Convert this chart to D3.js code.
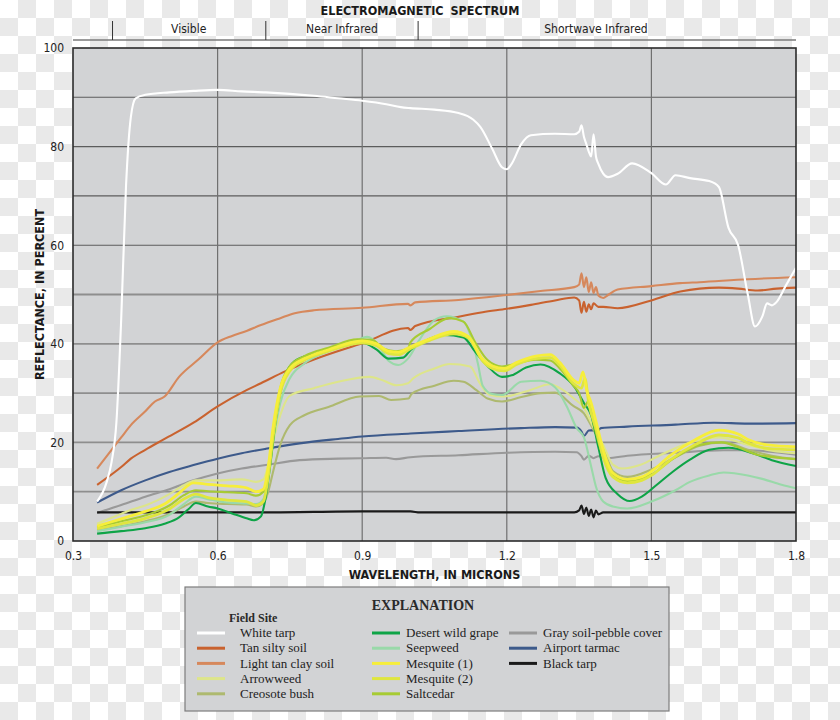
<!DOCTYPE html>
<html lang="en">
<head>
<meta charset="UTF-8">
<script src="https://d3js.org/d3.v7.min.js"></script>
<style>
    body {
        margin: 0;
        background: repeating-conic-gradient(#e9e9e9 0% 25%, #ffffff 0% 50%) 0 0 / 36px 36px;
    }
    svg { display: block; }
    .narrow { font-family: "Liberation Sans Narrow", "Arial Narrow", "DejaVu Sans Condensed", sans-serif; }
    .serif { font-family: "Liberation Serif", "DejaVu Serif", serif; }
</style>
</head>
<body>
<svg id="chart" width="840" height="720"></svg>
<script>
// ---- data (wavelength in microns, reflectance in percent) ----
const xTicks = [0.3, 0.6, 0.9, 1.2, 1.5, 1.8];
const yTicks = [0, 20, 40, 60, 80, 100];
const yGrid = [10, 20, 30, 40, 50, 60, 70, 80, 90];
const xGrid = [0.6, 0.9, 1.2, 1.5];

const bandNames = ["Visible", "Near Infrared", "Shortwave Infrared"];
const bandEdges = [0.382, 0.70, 1.016];
const bandLabelAt = [0.54, 0.858, 1.385];

const whiteTarp = [[0.35,8],[0.37,12],[0.38,16],[0.39,24],[0.40,45],[0.41,72],[0.42,86],[0.43,89.8],[0.45,90.5],[0.50,91],[0.55,91.3],[0.60,91.5],[0.65,91.2],[0.70,91],[0.75,90.7],[0.80,90.3],[0.85,89.8],[0.90,89.3],[0.95,88.6],[0.98,88],[1.00,87.8],[1.05,87.5],[1.10,86.8],[1.13,85.5],[1.145,84],[1.17,79.5],[1.19,75.8],[1.20,75.4],[1.21,76.5],[1.23,80.5],[1.25,82.3],[1.30,82.6],[1.34,82.5],[1.35,83],[1.355,84.3],[1.36,82],[1.365,80.5],[1.37,79],[1.375,78],[1.38,82.5],[1.385,78],[1.39,76.5],[1.40,74.5],[1.41,73.8],[1.43,74.5],[1.46,76.6],[1.50,74.6],[1.53,72.3],[1.55,74.2],[1.58,73.6],[1.62,73],[1.64,71.8],[1.66,63.5],[1.68,60],[1.70,50],[1.715,43.5],[1.73,45.5],[1.74,48.2],[1.75,47.8],[1.76,48.5],[1.78,52],[1.80,55.4]];
const tanSiltySoil = [[0.35,11.4],[0.40,15],[0.42,16.7],[0.45,18.5],[0.49,20.7],[0.55,24],[0.60,27.3],[0.66,30.6],[0.69,32],[0.74,34.4],[0.80,36.8],[0.90,40.1],[0.995,43.2],[1.00,42.8],[1.01,43.6],[1.10,45.5],[1.15,46.4],[1.20,47.1],[1.25,47.9],[1.30,48.8],[1.34,49.4],[1.35,48.8],[1.355,46.3],[1.36,48.5],[1.365,46.5],[1.37,48],[1.375,47],[1.38,48.2],[1.39,47.5],[1.40,47.5],[1.43,47.2],[1.50,48.8],[1.56,50.6],[1.64,51.4],[1.68,51.2],[1.72,50.8],[1.76,51.2],[1.80,51.4]];
const lightTanClaySoil = [[0.35,14.7],[0.38,18.5],[0.40,21],[0.42,23.5],[0.45,26.3],[0.47,28.3],[0.49,29.3],[0.52,33.3],[0.56,36.8],[0.60,40.3],[0.63,41.6],[0.66,42.6],[0.69,43.8],[0.73,45.2],[0.76,46.2],[0.80,46.8],[0.90,47.3],[0.995,48.1],[1.00,47.8],[1.01,48.4],[1.10,48.9],[1.20,49.9],[1.27,50.7],[1.34,51.5],[1.35,52],[1.355,54.3],[1.36,51.5],[1.365,53.5],[1.37,50.5],[1.375,52.5],[1.38,50.3],[1.385,51.5],[1.39,49.8],[1.40,49.3],[1.41,49.9],[1.43,51],[1.50,51.7],[1.56,52.3],[1.60,52.5],[1.70,53.1],[1.80,53.5]];
const arrowweed = [[0.35,3.5],[0.40,5.5],[0.42,6.3],[0.45,7.2],[0.50,9.5],[0.53,11.3],[0.555,12.3],[0.60,12.3],[0.65,12.5],[0.68,12],[0.695,12.5],[0.705,15.5],[0.715,20],[0.73,25.5],[0.75,29.5],[0.80,31],[0.85,32.3],[0.916,33.3],[0.945,32.5],[0.971,31.6],[0.995,32],[1.006,33],[1.05,35],[1.082,35.9],[1.124,35.4],[1.144,32],[1.165,29.6],[1.193,29.3],[1.248,30.6],[1.29,31.8],[1.31,31],[1.338,29],[1.36,27],[1.38,23],[1.40,19.5],[1.42,15.5],[1.44,14.7],[1.476,15.4],[1.52,17.5],[1.58,20],[1.64,21],[1.70,19.5],[1.75,18.3],[1.80,17.8]];
const creosoteBush = [[0.35,2.2],[0.40,3],[0.45,4],[0.50,5.5],[0.53,7],[0.555,8],[0.58,7.7],[0.62,7.5],[0.66,7.4],[0.68,7],[0.695,7.6],[0.705,10],[0.715,14],[0.73,19.5],[0.75,23.5],[0.78,25.5],[0.83,27.2],[0.895,29.3],[0.935,29.4],[0.96,28.6],[0.996,28.9],[1.003,29.9],[1.05,31.5],[1.09,32.5],[1.11,32.3],[1.137,30.6],[1.16,28.9],[1.19,28.3],[1.23,29.2],[1.27,30],[1.30,30.1],[1.338,27.4],[1.36,25.9],[1.38,22.5],[1.40,19.1],[1.42,14.2],[1.45,13],[1.50,14.5],[1.55,17],[1.60,19.3],[1.65,20],[1.70,18.5],[1.75,17.3],[1.80,16.6]];
const desertWildGrape = [[0.35,1.5],[0.40,2],[0.45,2.6],[0.49,3.5],[0.52,4.8],[0.54,6.5],[0.555,7.7],[0.58,7],[0.60,6.6],[0.63,5.6],[0.66,4.6],[0.675,4.2],[0.69,5],[0.70,9],[0.71,16],[0.72,24],[0.73,30],[0.74,33.5],[0.76,36.5],[0.80,38],[0.85,39.3],[0.90,40.2],[0.93,38.8],[0.955,37],[0.985,37.2],[1.00,38.7],[1.03,40.6],[1.07,41.8],[1.11,41.3],[1.135,38.3],[1.16,35.5],[1.19,33.3],[1.21,33.6],[1.24,35.2],[1.27,35.8],[1.31,34],[1.34,31.3],[1.36,28],[1.375,25.5],[1.39,19],[1.405,12.8],[1.43,9.5],[1.455,8.1],[1.48,9],[1.51,11.3],[1.545,14.1],[1.58,16.5],[1.62,18.5],[1.66,18.9],[1.71,17.8],[1.75,16.4],[1.80,15.2]];
const seepweed = [[0.35,2],[0.40,2.9],[0.45,3.8],[0.50,5.3],[0.53,7.5],[0.555,9],[0.58,8.5],[0.62,7.8],[0.66,7.6],[0.68,7.5],[0.695,8.5],[0.705,13],[0.715,20],[0.73,28],[0.75,33],[0.78,36],[0.83,38.5],[0.89,40.8],[0.91,41.4],[0.935,39.6],[0.955,36.5],[0.975,35.7],[0.995,37],[1.02,41],[1.05,44.8],[1.075,45.6],[1.11,44.5],[1.13,40],[1.14,36],[1.15,31.5],[1.17,29.8],[1.19,29.6],[1.23,32.3],[1.27,32.5],[1.30,31.2],[1.325,27.2],[1.345,22.9],[1.36,21],[1.375,15.1],[1.385,11],[1.40,8],[1.42,7],[1.45,6.6],[1.50,8],[1.55,10.3],[1.58,12],[1.62,13.3],[1.65,13.9],[1.70,13.3],[1.73,12.6],[1.77,11.4],[1.80,10.7]];
const mesquite1 = [[0.35,3],[0.40,4.5],[0.45,6],[0.49,7.5],[0.52,9.7],[0.55,11.8],[0.58,11.5],[0.62,11.2],[0.66,10.8],[0.68,10],[0.695,10.5],[0.705,15],[0.715,23],[0.73,31],[0.75,35],[0.78,37],[0.83,38.8],[0.90,40.6],[0.93,40],[0.955,38.5],[0.975,38.3],[1.00,39.4],[1.04,41],[1.09,42.5],[1.12,41.5],[1.15,36.9],[1.17,35.5],[1.195,35],[1.22,36.2],[1.26,37.5],[1.29,37.8],[1.31,36.2],[1.338,32.7],[1.35,32],[1.358,34.3],[1.366,30.5],[1.375,28],[1.386,23.9],[1.40,18.5],[1.42,13.8],[1.45,12.5],[1.48,13],[1.50,14.1],[1.54,17.4],[1.59,20.5],[1.64,22.5],[1.68,21.7],[1.70,20.6],[1.74,19.5],[1.80,19.1]];
const mesquite2 = [[0.35,2.5],[0.40,3.5],[0.45,4.6],[0.50,6.5],[0.53,8.5],[0.555,9.5],[0.58,8.8],[0.62,8.3],[0.66,8],[0.68,7.2],[0.695,8],[0.705,13],[0.715,21],[0.73,30],[0.75,34.5],[0.78,36.7],[0.83,38.5],[0.90,40.2],[0.93,39.6],[0.955,38],[0.975,37.8],[1.00,39],[1.04,40.7],[1.09,42],[1.12,41.2],[1.15,36.5],[1.17,35],[1.195,34.5],[1.22,35.8],[1.26,37],[1.29,37.2],[1.31,35.6],[1.338,32],[1.355,31],[1.362,33],[1.37,28],[1.386,22.5],[1.40,17],[1.42,13],[1.45,11.8],[1.48,12.3],[1.50,13.3],[1.54,16.5],[1.59,19.5],[1.64,21.5],[1.68,20.9],[1.70,19.9],[1.74,18.8],[1.80,18.5]];
const saltcedar = [[0.35,2.8],[0.40,4],[0.45,5.2],[0.50,7.2],[0.53,9.3],[0.555,10.3],[0.58,10.1],[0.62,9.9],[0.66,9.7],[0.68,9.2],[0.695,10],[0.705,14],[0.715,22],[0.73,31],[0.75,35.5],[0.78,37.5],[0.83,39.2],[0.89,40.9],[0.92,40.8],[0.945,39],[0.97,38.5],[0.995,39],[1.00,40.3],[1.04,43],[1.08,45.2],[1.11,44.5],[1.135,40.2],[1.16,36.7],[1.19,35.4],[1.22,36],[1.26,36.8],[1.29,36.6],[1.31,35],[1.338,31.5],[1.35,30],[1.36,27],[1.37,28.5],[1.38,24],[1.40,17],[1.42,13.5],[1.45,12.2],[1.50,13.5],[1.55,17],[1.60,19.5],[1.645,20],[1.68,19],[1.72,17.5],[1.80,16.6]];
const graySoilPebble = [[0.35,5.7],[0.40,7.3],[0.45,9],[0.50,10.5],[0.55,12.3],[0.60,13.7],[0.65,14.7],[0.70,15.4],[0.77,16.4],[0.85,16.7],[0.90,16.8],[0.95,16.9],[0.97,16.6],[1.00,17],[1.10,17.4],[1.20,17.9],[1.30,18.1],[1.345,18],[1.355,17.2],[1.36,16.5],[1.37,17.3],[1.38,16.8],[1.39,17.2],[1.41,16.8],[1.45,17.3],[1.55,17.9],[1.65,18.4],[1.70,18.4],[1.80,17.5]];
const airportTarmac = [[0.35,7.8],[0.40,10.3],[0.45,12.3],[0.50,14],[0.55,15.4],[0.60,16.7],[0.65,17.8],[0.70,18.7],[0.77,19.8],[0.85,20.7],[0.90,21.2],[1.00,21.8],[1.10,22.3],[1.23,22.9],[1.30,23.1],[1.345,23],[1.355,22.2],[1.36,21.3],[1.37,22.4],[1.38,22.5],[1.385,21.8],[1.395,22.9],[1.45,23.2],[1.55,23.6],[1.63,24],[1.70,23.8],[1.80,23.9]];
const blackTarp = [[0.35,5.8],[0.50,5.8],[0.70,5.8],[0.90,6],[1.00,6],[1.02,5.8],[1.34,5.8],[1.35,6.2],[1.355,7.2],[1.36,5.5],[1.365,6.8],[1.37,5.1],[1.375,6.4],[1.38,4.8],[1.385,6.2],[1.39,5.4],[1.40,5.8],[1.50,5.8],[1.80,5.8]];

const series = [
    { name: "White tarp", values: whiteTarp, color: "#ffffff", col: 0, row: 0 },
    { name: "Tan silty soil", values: tanSiltySoil, color: "#c9622f", col: 0, row: 1 },
    { name: "Light tan clay soil", values: lightTanClaySoil, color: "#d6885c", col: 0, row: 2 },
    { name: "Arrowweed", values: arrowweed, color: "#dde58a", col: 0, row: 3 },
    { name: "Creosote bush", values: creosoteBush, color: "#aeb96f", col: 0, row: 4 },
    { name: "Desert wild grape", values: desertWildGrape, color: "#0ea447", col: 1, row: 0 },
    { name: "Seepweed", values: seepweed, color: "#99d9a9", col: 1, row: 1 },
    { name: "Mesquite (1)", values: mesquite1, color: "#f6ee3a", col: 1, row: 2 },
    { name: "Mesquite (2)", values: mesquite2, color: "#dfe63e", col: 1, row: 3 },
    { name: "Saltcedar", values: saltcedar, color: "#a7cb33", col: 1, row: 4 },
    { name: "Gray soil-pebble cover", values: graySoilPebble, color: "#999999", col: 2, row: 0 },
    { name: "Airport tarmac", values: airportTarmac, color: "#3d5a8b", col: 2, row: 1 },
    { name: "Black tarp", values: blackTarp, color: "#1a1a1a", col: 2, row: 2 }
];
// back-to-front drawing order
const drawOrder = ["Gray soil-pebble cover", "Airport tarmac", "Black tarp", "Light tan clay soil", "Tan silty soil",
    "Creosote bush", "Arrowweed", "Seepweed", "Desert wild grape", "Saltcedar", "Mesquite (2)", "Mesquite (1)", "White tarp"];

// ---- layout ----
const svg = d3.select("#chart");
const margin = { top: 48, right: 44, bottom: 179, left: 73 };
const width = 840 - margin.left - margin.right;
const height = 720 - margin.top - margin.bottom;

const x = d3.scaleLinear().domain([0.3, 1.8]).range([0, width]);
const y = d3.scaleLinear().domain([0, 100]).range([height, 0]);

// spectrum band header
const band = svg.append("g").attr("class", "narrow").attr("transform", `translate(${margin.left},0)`);
band.append("text")
    .attr("x", 347).attr("y", 15)
    .attr("text-anchor", "middle")
    .style("font-size", "12.5px").style("font-weight", "bold").style("word-spacing", "3px")
    .attr("fill", "#1a1a1a")
    .text("ELECTROMAGNETIC SPECTRUM");
band.append("line")
    .attr("x1", 0).attr("x2", width).attr("y1", 40).attr("y2", 40)
    .attr("stroke", "#7a7a7a").attr("stroke-width", 1.6);
band.selectAll(".edge")
    .data(bandEdges).enter().append("line")
    .attr("x1", d => x(d)).attr("x2", d => x(d))
    .attr("y1", 21).attr("y2", 40)
    .attr("stroke", "#333").attr("stroke-width", 1);
band.selectAll(".bandlabel")
    .data(bandNames).enter().append("text")
    .attr("x", (d, i) => x(bandLabelAt[i])).attr("y", 33)
    .attr("text-anchor", "middle")
    .style("font-size", "12px")
    .attr("fill", "#222")
    .text(d => d);

const g = svg.append("g").attr("transform", `translate(${margin.left},${margin.top})`);

g.append("rect").attr("width", width).attr("height", height).attr("fill", "#d2d3d5");

// grid
g.selectAll(".hgrid")
    .data(yGrid).enter().append("line")
    .attr("x1", 0).attr("x2", width)
    .attr("y1", d => y(d)).attr("y2", d => y(d))
    .attr("stroke", d => d >= 60 ? "#5c5c5c" : "#8e8e8e")
    .attr("stroke-width", d => d >= 60 ? 1.1 : 1.8);
g.selectAll(".vgrid")
    .data(xGrid).enter().append("line")
    .attr("x1", d => x(d)).attr("x2", d => x(d))
    .attr("y1", 0).attr("y2", height)
    .attr("stroke", "#707070").attr("stroke-width", 1.2);

// curves
const line = d3.line()
    .x(d => x(d[0]))
    .y(d => y(d[1]))
    .curve(d3.curveMonotoneX);

const thick = new Set(["Mesquite (1)", "Mesquite (2)"]);
g.selectAll(".curve")
    .data(drawOrder.map(n => series.find(s => s.name === n)))
    .enter().append("path")
    .attr("class", "curve")
    .attr("d", d => line(d.values))
    .attr("fill", "none")
    .attr("stroke", d => d.color)
    .attr("stroke-width", d => thick.has(d.name) ? 2.8 : 2.1)
    .attr("stroke-linejoin", "round");

g.append("rect").attr("width", width).attr("height", height)
    .attr("fill", "none").attr("stroke", "#2b2b2b").attr("stroke-width", 1.6);

// axes
const xAxis = g.append("g").attr("class", "narrow")
    .attr("transform", `translate(0,${height})`)
    .call(d3.axisBottom(x).tickValues(xTicks).tickSize(0).tickPadding(10).tickFormat(d3.format(".1f")));
const yAxis = g.append("g").attr("class", "narrow")
    .call(d3.axisLeft(y).tickValues(yTicks).tickSize(0).tickPadding(9));
[xAxis, yAxis].forEach(a => {
    a.select(".domain").remove();
    a.selectAll("text").style("font-size", "12px").attr("fill", "#222")
        .style("font-family", "\"Liberation Sans Narrow\", \"Arial Narrow\", \"DejaVu Sans Condensed\", sans-serif");
});

g.append("text").attr("class", "narrow")
    .attr("x", width / 2).attr("y", height + 38)
    .attr("text-anchor", "middle")
    .style("font-size", "12.5px").style("font-weight", "bold").attr("fill", "#1a1a1a")
    .text("WAVELENGTH, IN MICRONS");
g.append("text").attr("class", "narrow")
    .attr("transform", `translate(-29,${height / 2}) rotate(-90)`)
    .attr("text-anchor", "middle")
    .style("font-size", "12.5px").style("font-weight", "bold").attr("fill", "#1a1a1a")
    .text("REFLECTANCE, IN PERCENT");

// explanation box
const lg = svg.append("g").attr("class", "serif").attr("transform", "translate(185,587)");
lg.append("rect").attr("width", 484).attr("height", 124)
    .attr("fill", "#d2d3d5").attr("stroke", "#7d7d7d").attr("stroke-width", 1.2);
lg.append("text").attr("x", 238).attr("y", 23)
    .attr("text-anchor", "middle")
    .style("font-size", "14px").style("font-weight", "bold").attr("fill", "#2a2a2a")
    .text("EXPLANATION");
lg.append("text").attr("x", 44).attr("y", 35)
    .style("font-size", "12px").style("font-weight", "bold").attr("fill", "#2a2a2a")
    .text("Field Site");

const colLine = [12, 187, 324];
const colText = [55, 221, 358];
const item = lg.selectAll(".item")
    .data(series).enter().append("g")
    .attr("transform", d => `translate(0,${46 + d.row * 15.2})`);
item.append("line")
    .attr("x1", d => colLine[d.col]).attr("x2", d => colLine[d.col] + 28)
    .attr("stroke", d => d.color).attr("stroke-width", 3);
item.append("text")
    .attr("x", d => colText[d.col]).attr("dy", "0.33em")
    .style("font-size", "13px").attr("fill", "#222")
    .text(d => d.name);
</script>
</body>
</html>
